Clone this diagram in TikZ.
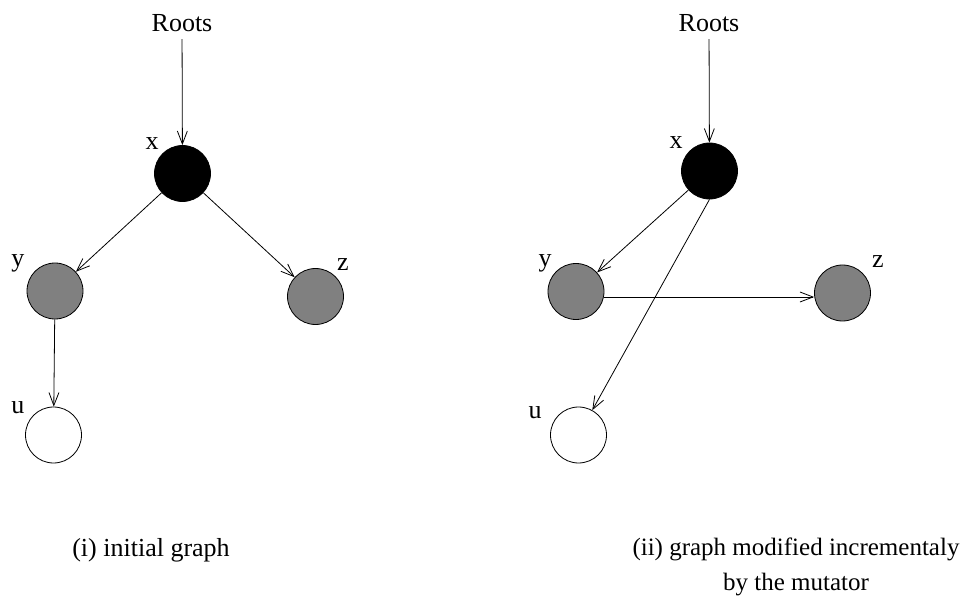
\documentclass[tikz,border=0pt]{standalone}
\usepackage{fontspec}
\setmainfont{Liberation Serif}
\usetikzlibrary{arrows.meta}
\begin{document}
\begin{tikzpicture}[x=1pt,y=-1pt,font=\fontsize{26}{35}\selectfont,
    >={Straight Barb[length=13pt,width=10pt]},
    vertex/.style={circle,draw,line width=0.8pt,minimum size=56pt,inner sep=0pt},
    edge/.style={->,line width=0.8pt}]
    \useasboundingbox (0,0) rectangle (962,596);
    %initial graph
    \node (rootsL) at (182,23) {Roots};
    \node[vertex,fill=black] (xL) at (182.5,173.5) {};
    \node[vertex,fill=gray] (yL) at (55,291) {};
    \node[vertex,fill=gray] (zL) at (315.5,296.5) {};
    \node[vertex,fill=white] (uL) at (53.5,435) {};
    \node at (152,144) {x};
    \node at (18,263) {y};
    \node at (343,265) {z};
    \node at (18,408) {u};
    \draw [edge,shorten <=4pt] (rootsL) -- (xL);
    \draw [edge] (xL) -- (yL);
    \draw [edge] (xL) -- (zL);
    \draw [edge] (yL) -- (uL);
    \node (capL) at (151,550) {(i) initial graph};
    %modified graph
    \node (rootsR) at (709,23) {Roots};
    \node[vertex,fill=black] (xR) at (709.5,171) {};
    \node[vertex,fill=gray] (yR) at (576,291.5) {};
    \node[vertex,fill=gray] (zR) at (842.5,293) {};
    \node[vertex,fill=white] (uR) at (578.5,435) {};
    \node at (676,143) {x};
    \node at (545,263) {y};
    \node at (878,262) {z};
    \node at (535,413) {u};
    \draw [edge,shorten <=4pt] (rootsR) -- (xR);
    \draw [edge] (xR) -- (yR);
    \draw [edge] (xR.south) -- (uR);
    \draw [edge] ([yshift=-5.5pt]yR.east) -- ([yshift=-4pt]zR.west);
    \node[align=center,font=\fontsize{25}{35}\selectfont] (capR) at (796,567) {(ii) graph modified incrementaly\\by the mutator};
\end{tikzpicture}
\end{document}
